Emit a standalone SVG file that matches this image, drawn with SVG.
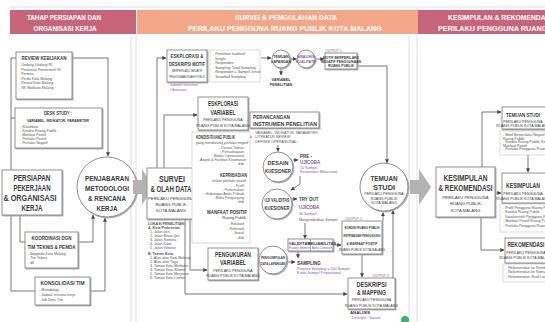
<svg xmlns="http://www.w3.org/2000/svg" width="545" height="322" viewBox="0 0 545 322">
<style>
text{font-family:"Liberation Sans",Arial,sans-serif;fill:#3a3a3a}
.hd{font-weight:bold;fill:#fff;font-size:8px}
.b{font-weight:bold}
.c{text-anchor:middle}
.e{text-anchor:end}
.s{font-size:3.6px;fill:#555}
.p{fill:#7a5aa8}
.bx{fill:#fff;stroke:#858585;stroke-width:0.9;filter:url(#sh)}
.lb{fill:#fff;stroke:#c4c4c4;stroke-width:0.6}
.ci{fill:#fff;stroke:#858585;stroke-width:0.9;filter:url(#sh)}
.ln{fill:none;stroke:#555;stroke-width:0.8;marker-end:url(#a)}
.lp{fill:none;stroke:#555;stroke-width:0.8}
.sep{stroke:#d6d6d6;stroke-width:0.8}
.chev{fill:#b3b3b3}
</style>
<defs>
<filter id="sh" x="-10%" y="-10%" width="130%" height="130%">
<feDropShadow dx="1" dy="1" stdDeviation="0.5" flood-color="#aaa"/>
</filter>
<marker id="a" viewBox="0 0 6 6" refX="5.5" refY="3" markerWidth="4" markerHeight="4" markerUnits="userSpaceOnUse" orient="auto">
<path d="M0,0 L6,3 L0,6 z" fill="#444"/>
</marker>
</defs>
<rect width="545" height="322" fill="#fff"/>
<line x1="10" y1="7" x2="545" y2="7" class="sep"/>
<line x1="131" y1="36" x2="131" y2="322" class="sep"/>
<line x1="136" y1="36" x2="136" y2="322" class="sep"/>
<line x1="409" y1="36" x2="409" y2="322" class="sep"/>
<line x1="417" y1="36" x2="417" y2="322" class="sep"/>

<g id="header-persiapan">
<rect x="10" y="10" width="126" height="24" fill="#c8647a"/>
<text class="hd c" x="64" y="20" textLength="74" lengthAdjust="spacingAndGlyphs">TAHAP PERSIAPAN DAN</text>
<text class="hd c" x="65" y="31" textLength="63" lengthAdjust="spacingAndGlyphs">ORGANISASI KERJA</text>
</g>
<g id="header-survei">
<rect x="137" y="10" width="281" height="24" fill="#f3a688"/>
<text class="hd c" x="286" y="20" textLength="102" lengthAdjust="spacingAndGlyphs">SURVEI &amp; PENGOLAHAN DATA</text>
<text class="hd c" x="285" y="31" textLength="194" lengthAdjust="spacingAndGlyphs">PERILAKU PENGGUNA RUANG PUBLIK KOTA MALANG</text>
</g>
<g id="header-kesimpulan">
<rect x="418" y="10" width="127" height="24" fill="#c8647a"/>
<text class="hd" x="448" y="20" textLength="104" lengthAdjust="spacingAndGlyphs">KESIMPULAN &amp; REKOMENDASI</text>
<text class="hd" x="438" y="31" textLength="194" lengthAdjust="spacingAndGlyphs">PERILAKU PENGGUNA RUANG PUBLIK KOTA MALANG</text>
</g>

<g id="connectors">
<path class="lp" d="M11,58 H16"/>
<path class="lp" d="M11,170 V58"/>
<path class="lp" d="M11,118 H15"/>
<path class="ln" d="M72,58 H108 V156"/>
<path class="lp" d="M11,215 V291 H35"/>
<path class="lp" d="M20,215 V242 H25"/>
<path class="ln" d="M78,242 H93 V215"/>
<path class="ln" d="M90,291 H105 V218"/>
<path class="ln" d="M157,168 V58 H166"/>
<path class="ln" d="M164,168 V115 H197"/>
<path class="ln" d="M185,219 V294 H347"/>
<path class="ln" d="M190,219 V270 H207"/>
<path class="ln" d="M261,58 H271"/>
<path class="ln" d="M290,59 H296.5"/>
<path class="ln" d="M315,59 H324"/>
<path class="ln" d="M281,68 V75"/>
<path class="ln" d="M357,66 H387 V163"/>
<path class="ln" d="M252,137 H239"/>
<path class="ln" d="M278,145 V151.5"/>
<path class="ln" d="M293,160 H298"/>
<path class="ln" d="M300,176 V184 L291,190"/>
<path class="ln" d="M292,199 H297"/>
<path class="ln" d="M305,223 V238.5"/>
<path class="ln" d="M333,245 H341"/>
<path class="ln" d="M298,251 V258"/>
<path class="ln" d="M287,262 H295"/>
<path class="ln" d="M362,254 V277"/>
<path class="ln" d="M383,221 V212.5"/>
<path class="ln" d="M393,278 V210.5"/>
<path class="ln" d="M482,167 V112 H501"/>
<path class="ln" d="M528,155 V172"/>
<path class="ln" d="M495,193 H501"/>
<path class="ln" d="M481,217 V250 H504"/>
</g>

<g id="review-kebijakan">
<rect class="bx" x="16" y="52" width="56" height="47"/>
<text class="b c" x="44" y="60" font-size="6" textLength="45" lengthAdjust="spacingAndGlyphs">REVIEW KEBIJAKAN</text>
<text class="s" x="19" y="66">- Undang-Undang RI</text>
<text class="s" x="19" y="70.5">- Peraturan Pemerintah RI</text>
<text class="s" x="19" y="75">- Permen</text>
<text class="s" x="19" y="79.5">- Perda Kota Malang</text>
<text class="s" x="19" y="84">- Perwal Kota Malang</text>
<text class="s" x="19" y="88.5">- SK Walikota Malang</text>
</g>
<g id="desk-study">
<rect class="bx" x="15" y="108" width="87" height="40"/>
<text class="b c" x="58" y="115" font-size="5.5" textLength="28" lengthAdjust="spacingAndGlyphs">DESK STUDY :</text>
<text class="b c" x="58" y="122" font-size="4.3" textLength="62" lengthAdjust="spacingAndGlyphs">VARIABEL, INDIKATOR, PARAMETER</text>
<text class="s" x="20" y="128">- Klasifikasi</text>
<text class="s" x="20" y="132">- Kondisi Ruang Publik</text>
<text class="s" x="20" y="136">- Manfaat Positif</text>
<text class="s" x="20" y="140">- Perilaku Positif</text>
<text class="s" x="20" y="144">- Perilaku Negatif</text>
</g>
<g id="persiapan">
<rect class="bx" x="2" y="170" width="60" height="45"/>
<text class="b c" x="32" y="181" font-size="8.5" textLength="37" lengthAdjust="spacingAndGlyphs">PERSIAPAN</text>
<text class="b c" x="32" y="191" font-size="8.5" textLength="37" lengthAdjust="spacingAndGlyphs">PEKERJAAN</text>
<text class="b c" x="30" y="201" font-size="8.5" textLength="53" lengthAdjust="spacingAndGlyphs">&amp; ORGANISASI</text>
<text class="b c" x="32" y="211" font-size="8.5" textLength="21" lengthAdjust="spacingAndGlyphs">KERJA</text>
</g>
<g id="penjabaran">
<circle class="ci" cx="107" cy="187" r="30"/>
<text class="b c" x="107" y="181" font-size="8" textLength="44" lengthAdjust="spacingAndGlyphs">PENJABARAN</text>
<text class="b c" x="107" y="191" font-size="8" textLength="44" lengthAdjust="spacingAndGlyphs">METODOLOGI</text>
<text class="b c" x="107" y="201" font-size="8" textLength="38" lengthAdjust="spacingAndGlyphs">&amp; RENCANA</text>
<text class="b c" x="107" y="211" font-size="8" textLength="21" lengthAdjust="spacingAndGlyphs">KERJA</text>
</g>
<g id="koordinasi">
<rect class="bx" x="25" y="232" width="53" height="36"/>
<text class="b c" x="51.5" y="240" font-size="5.5" textLength="40" lengthAdjust="spacingAndGlyphs">KOORDINASI DGN</text>
<text class="b c" x="51.5" y="248.5" font-size="5.5" textLength="48" lengthAdjust="spacingAndGlyphs">TIM TEKNIS &amp; PEMDA</text>
<text class="s" x="28" y="254.5">- Bappeda Kota Malang</text>
<text class="s" x="28" y="259">- Tim Teknis</text>
<text class="s" x="28" y="263.5">- dll</text>
</g>
<g id="konsolidasi">
<rect class="bx" x="35" y="277" width="55" height="28"/>
<text class="b c" x="62.5" y="285" font-size="5.5" textLength="44" lengthAdjust="spacingAndGlyphs">KONSOLIDASI TIM</text>
<text class="s" x="39" y="291">- Metodologi</text>
<text class="s" x="39" y="296">- Jadwal rencana kerja</text>
<text class="s" x="39" y="301">- Job Desc Tim</text>
</g>
<polygon class="chev" points="133,180 142,180 142,169 153,187 142,205 142,194 133,194"/>

<g id="survei-olah-data">
<rect class="bx" x="147" y="168" width="48" height="51"/>
<text class="b c" x="172" y="182" font-size="9.5" textLength="26" lengthAdjust="spacingAndGlyphs">SURVEI</text>
<text class="b c" x="171" y="192" font-size="9.5" textLength="41" lengthAdjust="spacingAndGlyphs">&amp; OLAH DATA</text>
<text class="c" x="171" y="199.5" font-size="4.2">PERILAKU PENGGUNA</text>
<text class="c" x="171" y="205.5" font-size="4.2">RUANG PUBLIK</text>
<text class="c" x="171" y="211.5" font-size="4.2">KOTA MALANG</text>
<text class="s b" x="148" y="225" font-size="3.4">LOKASI PENELITIAN:</text>
<text class="s b" x="148" y="229" font-size="3.4">A. Kota Pedestrian</text>
<text class="s" x="150" y="233" font-size="3.3">1. Jalan Ijen</text>
<text class="s" x="150" y="237" font-size="3.3">2. Jalan Besar Ijen</text>
<text class="s" x="150" y="241" font-size="3.3">3. Jalan Semeru</text>
<text class="s" x="150" y="245" font-size="3.3">4. Jalan Kawi</text>
<text class="s" x="150" y="249" font-size="3.3">5. Jalan Veteran</text>
<text class="s b" x="148" y="255" font-size="3.4">B. Taman Kota</text>
<text class="s" x="150" y="259" font-size="3.3">1. Alun-alun Kota Malang</text>
<text class="s" x="150" y="263" font-size="3.3">2. Alun-alun Tugu</text>
<text class="s" x="150" y="267" font-size="3.3">3. Taman Kota Merbabu</text>
<text class="s" x="150" y="271" font-size="3.3">4. Taman Kota Slamet</text>
<text class="s" x="150" y="275" font-size="3.3">5. Taman Kota Merjosari</text>
<text class="s" x="150" y="279" font-size="3.3">6. Taman Kota Cerme</text>
</g>
<g id="eksplorasi-motif">
<rect class="bx" x="167" y="50" width="40" height="32"/>
<text class="b c" x="187" y="58" font-size="6" textLength="33" lengthAdjust="spacingAndGlyphs">ESKPLORASI &amp;</text>
<text class="b c" x="187" y="66" font-size="6" textLength="36" lengthAdjust="spacingAndGlyphs">DESKRIPSI MOTIF</text>
<text class="c" x="187" y="72" font-size="3.4" textLength="30" lengthAdjust="spacingAndGlyphs">BERPERILAKU NEGATIF</text>
<text class="c" x="187" y="77.5" font-size="3.4" textLength="36" lengthAdjust="spacingAndGlyphs">PENGGUNAAN RUANG PUBLIK</text>
<text class="s p" x="168" y="86">- Indepth Interview</text>
<text class="s p" x="168" y="91">- Observasi</text>
</g>
<g id="metode-kualitatif">
<rect class="lb" x="210" y="50" width="50" height="32"/>
<text class="s" x="213" y="55" font-size="3.2">- Penelitian kualitatif</text>
<text class="s" x="213" y="59.5" font-size="3.2">- Insight</text>
<text class="s" x="213" y="64" font-size="3.2">- Responden</text>
<text class="s" x="213" y="68.5" font-size="3.2">- Sampling: Total Sampling</text>
<text class="s" x="213" y="73" font-size="3.2">- Responden = Sampel Jenuh</text>
<text class="s" x="213" y="77.5" font-size="3.2">- Snowball Sampling</text>
</g>
<g id="temuan-lapangan">
<circle class="ci" cx="281" cy="59" r="9"/>
<text class="b c" x="281" y="58" font-size="3.6">TEMUAN</text>
<text class="b c" x="281" y="62.5" font-size="3.6">LAPANGAN</text>
<text class="b c" x="281" y="80.5" font-size="3.8">VARIABEL</text>
<text class="b c" x="281" y="85.5" font-size="3.8">PENELITIAN</text>
</g>
<g id="analisis-kualitatif">
<circle class="ci" cx="306" cy="59" r="9"/>
<text class="b c p" x="306" y="58" font-size="3.6">ANALISIS</text>
<text class="b c p" x="306" y="62.5" font-size="3.6">KUALITATIF</text>
</g>
<g id="output-1">
<text class="p" x="325" y="51.5" font-size="3.4">OUTPUT 1</text>
<rect class="bx" x="325" y="53" width="32" height="16"/>
<text class="b c" x="341" y="58.5" font-size="3.4">MOTIF BERPERILAKU</text>
<text class="b c" x="341" y="62.5" font-size="3.4">NEGATIF PENGGUNAAN</text>
<text class="b c" x="341" y="66.5" font-size="3.4">RUANG PUBLIK</text>
</g>
<g id="eksplorasi-variabel">
<rect class="bx" x="198" y="97" width="50" height="33"/>
<text class="b c" x="223" y="106" font-size="6.5" textLength="30" lengthAdjust="spacingAndGlyphs">ESKPLORASI</text>
<text class="b c" x="223" y="114.5" font-size="6.5" textLength="25" lengthAdjust="spacingAndGlyphs">VARIABEL</text>
<text class="c" x="223" y="121" font-size="3.6">PERILAKU PENGGUNA</text>
<text class="c" x="223" y="126.5" font-size="3.6">RUANG PUBLIK KOTA MALANG</text>
</g>
<g id="variabel-detail">
<rect class="lb" x="192" y="132" width="58" height="111"/>
<text class="b" x="196" y="139" font-size="4.6" textLength="39" lengthAdjust="spacingAndGlyphs">KONDISI RUANG PUBLIK</text>
<text class="s" x="196" y="144">yang mendorong perilaku negatif</text>
<text class="s e" x="244" y="149">- Desain Taman</text>
<text class="s e" x="244" y="153">- Pencahayaan</text>
<text class="s e" x="244" y="157">- Waktu Operasional</text>
<text class="s e" x="246" y="161">- Aspek &amp; Fasilitas Keamanan</text>
<text class="s e" x="244" y="165">- dsb</text>
<text class="b e" x="247" y="177" font-size="5" textLength="27" lengthAdjust="spacingAndGlyphs">KEPRIBADIAN</text>
<text class="s e" x="246" y="182">terkait perilaku positif</text>
<text class="s e" x="244" y="186.5">- Profil</text>
<text class="s e" x="244" y="190.5">- Pencerahan</text>
<text class="s e" x="244" y="194.5">- Hubungan Antar Pribadi</text>
<text class="s e" x="244" y="198.5">- Etika Pengunjung</text>
<text class="s e" x="244" y="202.5">- dsb</text>
<text class="b e" x="247" y="213.5" font-size="5" textLength="40" lengthAdjust="spacingAndGlyphs">MANFAAT POSITIF</text>
<text class="e" x="246" y="219" font-size="4">Ruang Publik</text>
<text class="s e" x="244" y="225">- Edukatif</text>
<text class="s e" x="244" y="229.5">- Rekreatif</text>
<text class="s e" x="244" y="234">- Sosial</text>
<text class="s e" x="244" y="238.5">- dsb</text>
</g>
<g id="perancangan-instrumen">
<rect class="bx" x="250" y="112" width="69" height="16"/>
<text class="b" x="253" y="118.5" font-size="5.5" textLength="37" lengthAdjust="spacingAndGlyphs">PERANCANGAN</text>
<text class="b" x="253" y="126" font-size="5.5" textLength="64" lengthAdjust="spacingAndGlyphs">INSTRUMEN PENELITIAN</text>
<text class="s" x="253" y="133.5">- VARIABEL, INDIKATOR, PARAMETER</text>
<text class="s" x="253" y="138">- LITERATUR REVIEW</text>
<text class="s" x="253" y="142.5">- DEFINISI OPERASIONAL</text>
</g>
<g id="desain-kuesioner">
<circle class="ci" cx="278" cy="167" r="15"/>
<text class="b c" x="278" y="164.5" font-size="5.5">DESAIN</text>
<text class="b c" x="278" y="172.5" font-size="5.5" textLength="26" lengthAdjust="spacingAndGlyphs">KUESIONER</text>
</g>
<g id="pre-ujicoba">
<text class="b" x="300" y="158" font-size="4.5">PRE -</text>
<text class="b p" x="300" y="164" font-size="4.5">UJICOBA</text>
<text class="s p" x="300" y="168.5" font-size="3.3">10 Sampel</text>
<text class="s p" x="300" y="172.5" font-size="3.3">Responden Mahasiswa</text>
</g>
<g id="uji-validitas">
<circle class="ci" cx="277" cy="204" r="15"/>
<text class="b c" x="277" y="202" font-size="4.6" textLength="25" lengthAdjust="spacingAndGlyphs">UJI VALIDITAS</text>
<text class="b c" x="277" y="209.5" font-size="4.8" textLength="25" lengthAdjust="spacingAndGlyphs">KUESIONER</text>
</g>
<g id="try-out">
<text class="b" x="299" y="201" font-size="4.5">TRY OUT</text>
<text class="b p" x="299" y="208.5" font-size="4.5">UJICOBA</text>
<text class="s p" x="299" y="214.5" font-size="3.3">30 Sampel</text>
<text class="s" x="299" y="220.5" font-size="3.3">Mengembalikan Sampel</text>
</g>
<g id="validitas-reliabilitas">
<rect class="bx" x="288" y="239" width="45" height="12"/>
<line x1="310.5" y1="239" x2="310.5" y2="251" stroke="#858585" stroke-width="0.6"/>
<text class="b c" x="299.5" y="244.5" font-size="4.2">VALIDITAS</text>
<text class="c p" x="299.5" y="249" font-size="2.9">Product Moment</text>
<text class="b c" x="322" y="244.5" font-size="4.2">RELIABILITAS</text>
<text class="c p" x="322" y="249" font-size="2.9">Alpha Cronbach</text>
</g>
<g id="pengumpulan-data">
<circle class="ci" cx="273" cy="260" r="14"/>
<text class="b c" x="273" y="259" font-size="4.2" textLength="24" lengthAdjust="spacingAndGlyphs">PENGUMPULAN</text>
<text class="b c" x="273" y="265" font-size="4.2" textLength="25" lengthAdjust="spacingAndGlyphs">DATA LAPANGAN</text>
</g>
<g id="sampling">
<text class="b" x="297" y="264.5" font-size="4.5">SAMPLING</text>
<text class="s p" x="297" y="269.5" font-size="3.2">Purpose Sampling = 200 Sampel</text>
<text class="s p" x="297" y="274" font-size="3.2">Kuota Sampel Proporsional</text>
</g>
<g id="pengukuran-variabel">
<rect class="bx" x="208" y="248" width="50" height="32"/>
<text class="b c" x="233" y="256.5" font-size="6.5" textLength="36" lengthAdjust="spacingAndGlyphs">PENGUKURAN</text>
<text class="b c" x="233" y="265" font-size="6.5" textLength="26" lengthAdjust="spacingAndGlyphs">VARIABEL</text>
<text class="c" x="233" y="271.5" font-size="3.6">PERILAKU PENGGUNA</text>
<text class="c" x="233" y="277" font-size="3.6">RUANG PUBLIK KOTA MALANG</text>
</g>
<g id="output-2">
<text class="p" x="345" y="219.5" font-size="3.4">OUTPUT 2</text>
<rect class="bx" x="342" y="221" width="40" height="33"/>
<text class="b c" x="362" y="229" font-size="4.4" textLength="35" lengthAdjust="spacingAndGlyphs">KONDISI RUANG PUBLIK</text>
<text class="b c" x="362" y="237" font-size="4.4" textLength="37" lengthAdjust="spacingAndGlyphs">KEPRIBADIAN PENGUNJUNG</text>
<text class="b c" x="362" y="245" font-size="4.4" textLength="31" lengthAdjust="spacingAndGlyphs">&amp; MANFAAT POSITIF</text>
<text class="c" x="362" y="251" font-size="3.1">RUANG PUBLIK KOTA MALANG</text>
</g>
<g id="output-3">
<text class="p" x="372" y="276.5" font-size="3.4">OUTPUT 3</text>
<rect class="bx" x="348" y="278" width="47" height="31"/>
<text class="b c" x="371.5" y="286.5" font-size="7" textLength="30" lengthAdjust="spacingAndGlyphs">DESKRIPSI</text>
<text class="b c" x="371.5" y="295" font-size="7" textLength="29" lengthAdjust="spacingAndGlyphs">&amp; MAPPING</text>
<text class="c" x="371.5" y="301" font-size="3.6">PERILAKU PENGGUNA</text>
<text class="c" x="371.5" y="306.5" font-size="3.6">RUANG PUBLIK KOTA MALANG</text>
<text class="b" x="350" y="314" font-size="4.3">ANALISIS</text>
<text class="p" x="352" y="319" font-size="3.4">Deskriptif - Spasial</text>
</g>
<g id="temuan-studi">
<circle class="ci" cx="384" cy="187" r="24"/>
<text class="b c" x="384" y="181" font-size="8" textLength="27" lengthAdjust="spacingAndGlyphs">TEMUAN</text>
<text class="b c" x="384" y="190" font-size="8" textLength="22" lengthAdjust="spacingAndGlyphs">STUDI</text>
<text class="c" x="384" y="195" font-size="3.6">PERILAKU PENGGUNA</text>
<text class="c" x="384" y="199.5" font-size="3.6">RUANG PUBLIK</text>
<text class="c" x="384" y="204" font-size="3.6">KOTA MALANG</text>
</g>
<circle cx="405" cy="320" r="4" fill="#3cb371"/>
<polygon class="chev" points="410,180 419,180 419,169 431,187 419,205 419,194 410,194"/>

<g id="kesimpulan-rekomendasi">
<rect class="bx" x="436" y="167" width="59" height="50"/>
<text class="b c" x="465.5" y="181" font-size="9.5" textLength="44" lengthAdjust="spacingAndGlyphs">KESIMPULAN</text>
<text class="b c" x="465.5" y="191" font-size="9.5" textLength="54" lengthAdjust="spacingAndGlyphs">&amp; REKOMENDASI</text>
<text class="c" x="465.5" y="198.5" font-size="4.2">PERILAKU PENGGUNA</text>
<text class="c" x="465.5" y="205" font-size="4.2">RUANG PUBLIK</text>
<text class="c" x="465.5" y="211.5" font-size="4.2">KOTA MALANG</text>
</g>
<g id="temuan-studi-hasil">
<rect class="bx" x="502" y="107" width="50" height="22"/>
<text class="b c" x="523" y="117" font-size="6" textLength="34" lengthAdjust="spacingAndGlyphs">TEMUAN STUDI</text>
<text class="c" x="523" y="122.5" font-size="3.6">PERILAKU PENGGUNA</text>
<text class="c" x="523" y="127" font-size="3.6">RUANG PUBLIK KOTA MALANG</text>
<rect class="lb" x="500" y="131" width="50" height="24"/>
<text class="s" x="503" y="136" font-size="3.1">- Motif Berperilaku Negatif Pengguna</text>
<text class="s" x="503" y="139.5" font-size="3.1">Ruang Publik</text>
<text class="s" x="503" y="143" font-size="3.1">- Kondisi Ruang Publik, Kepribadian Pengguna,</text>
<text class="s" x="503" y="146.5" font-size="3.1">Manfaat Positif</text>
<text class="s" x="503" y="150" font-size="3.1">- Perilaku Pengguna Ruang Publik dalam Kota</text>
</g>
<g id="kesimpulan">
<rect class="bx" x="502" y="173" width="50" height="30"/>
<text class="b c" x="523" y="188" font-size="6.5" textLength="34" lengthAdjust="spacingAndGlyphs">KESIMPULAN</text>
<text class="c" x="523" y="195" font-size="3.6">PERILAKU PENGGUNA</text>
<text class="c" x="523" y="200" font-size="3.6">RUANG PUBLIK KOTA MALANG</text>
<rect class="lb" x="500" y="204" width="50" height="28"/>
<text class="s" x="503" y="208.5" font-size="3.1">- Profil Pengguna Ruang Publik</text>
<text class="s" x="503" y="213" font-size="3.1">- Kondisi Ruang Publik</text>
<text class="s" x="503" y="217.5" font-size="3.1">- Karakteristik Pengguna Ruang Publik</text>
<text class="s" x="503" y="222" font-size="3.1">- Manfaat Positif Ruang Publik</text>
<text class="s" x="503" y="226.5" font-size="3.1">- Perilaku Pengguna Ruang Publik</text>
</g>
<g id="rekomendasi">
<rect class="bx" x="505" y="238" width="45" height="25"/>
<text class="b c" x="526" y="247" font-size="6.5" textLength="37" lengthAdjust="spacingAndGlyphs">REKOMENDASI</text>
<text class="c" x="526" y="253.5" font-size="3.6">PERILAKU PENGGUNA</text>
<text class="c" x="526" y="259" font-size="3.6">RUANG PUBLIK KOTA MALANG</text>
<rect class="lb" x="503" y="264" width="47" height="18"/>
<text class="s" x="506" y="268.5" font-size="3.1">- Rekomendasi ke Pemda</text>
<text class="s" x="506" y="273" font-size="3.1">- Rekomendasi ke Komunitas</text>
<text class="s" x="506" y="277.5" font-size="3.1">- Rekomendasi Studi Lanjut</text>
</g>
</svg>
